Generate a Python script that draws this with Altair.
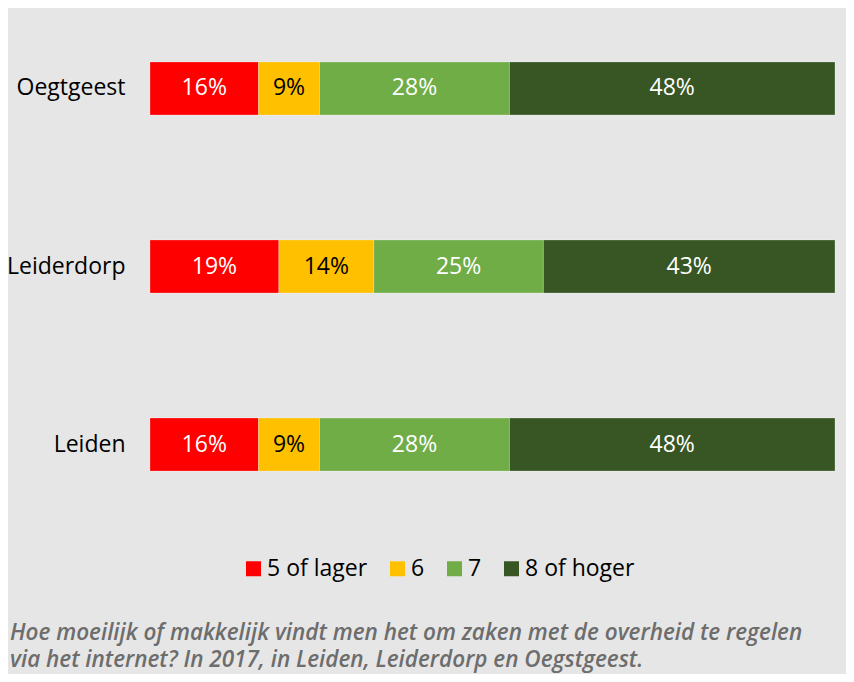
import altair as alt
import pandas as pd

towns = ["Oegtgeest", "Leiderdorp", "Leiden"]
grades = ["5 of lager", "6", "7", "8 of hoger"]
oegstgeest_vals = [16, 9, 28, 48]
leiderdorp_vals = [19, 14, 25, 43]
leiden_vals = [16, 9, 28, 48]
colors = ["#ff0000", "#ffc000", "#70ad47", "#375623"]
label_colors = ["#ffffff", "#000000", "#ffffff", "#ffffff"]

caption = [
    "Hoe moeilijk of makkelijk vindt men het om zaken met de overheid te regelen",
    "via het internet? In 2017, in Leiden, Leiderdorp en Oegstgeest.",
]

rows = []
for town, vals in zip(towns, [oegstgeest_vals, leiderdorp_vals, leiden_vals]):
    for i, (g, v) in enumerate(zip(grades, vals)):
        rows.append({"town": town, "grade": g, "value": v, "order": i,
                     "label": f"{v}%", "tc": label_colors[i]})
df = pd.DataFrame(rows)

FONT = "Open Sans"
FS = 23

base = alt.Chart(df).transform_joinaggregate(
    total="sum(value)", groupby=["town"]
).transform_calculate(
    pct="datum.value / datum.total"
).transform_stack(
    stack="pct", groupby=["town"], as_=["start", "end"],
    sort=[alt.SortField("order", order="ascending")]
).transform_calculate(
    mid="(datum.start + datum.end) / 2"
)

yenc = alt.Y("town:N", sort=towns,
             scale=alt.Scale(paddingInner=0.702, paddingOuter=0.303),
             axis=alt.Axis(title=None, domain=False, ticks=False,
                           labelFontSize=FS, labelFont=FONT, labelColor="#000000",
                           labelPadding=25))

bars = base.mark_bar(stroke="#ffffff", strokeOpacity=0.25, strokeWidth=1).encode(
    x=alt.X("start:Q", scale=alt.Scale(domain=[0, 1], nice=False), axis=None),
    x2="end:Q",
    y=yenc,
    color=alt.Color("grade:N", scale=alt.Scale(domain=grades, range=colors),
                    legend=alt.Legend(title=None, orient="none", direction="horizontal",
                                      legendX=92, legendY=549, symbolType="square",
                                      symbolSize=225, symbolStrokeWidth=0,
                                      labelFontSize=FS, labelFont=FONT,
                                      labelColor="#000000", labelOffset=2,
                                      columnPadding=18, padding=0)),
    order=alt.Order("order:Q"),
)

texts = base.mark_text(fontSize=FS, font=FONT).encode(
    x=alt.X("mid:Q", scale=alt.Scale(domain=[0, 1], nice=False), axis=None),
    y=yenc,
    text="label:N",
    color=alt.Color("tc:N", scale=None),
)

chart = alt.layer(bars, texts).properties(
    width=685, height=517,
    autosize=alt.AutoSizeParams(type="none"),
    padding={"left": 142, "top": 0, "right": 11, "bottom": 149},
    background="#e6e6e6",
    title=alt.Title(text=caption, orient="bottom", anchor="start", frame="group",
                    dx=-140, offset=41, fontSize=22.5, font=FONT, fontStyle="italic",
                    fontWeight=600, color="#6d6d6d", lineHeight=27),
).configure_view(stroke=None)

chart.save("out.html", embed_options={"renderer": "svg", "actions": False})
